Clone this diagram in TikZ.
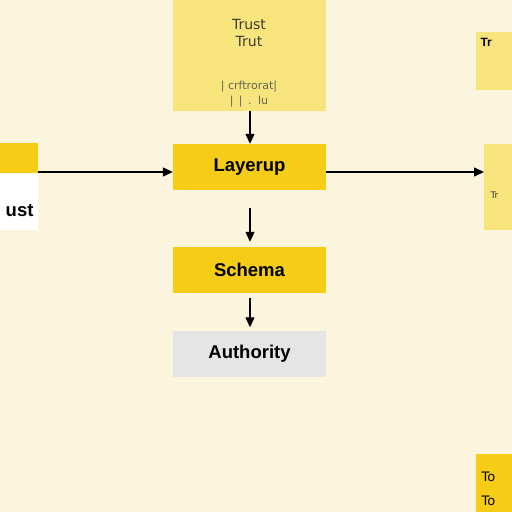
\documentclass[tikz,border=0pt]{standalone}
\usepackage{fontspec}
\setmainfont{Liberation Sans}
\newfontfamily\thinfont{DejaVu Sans}
\usetikzlibrary{arrows.meta}
\definecolor{cream}{RGB}{252,245,221}
\definecolor{gold}{RGB}{245,204,22}
\definecolor{paleyellow}{RGB}{248,228,124}
\definecolor{softgray}{RGB}{229,229,229}
\definecolor{inkgray}{RGB}{60,60,50}
\begin{document}
\begin{tikzpicture}[x=1pt, y=-1pt,
    box/.style={rectangle, inner sep=0pt, minimum width=153pt, minimum height=46pt,
      font=\fontsize{18.5}{20}\selectfont\bfseries},
    arr/.style={-{Triangle[length=10pt,width=9pt]}, line width=1.3pt, black}]
  \fill[cream] (0,0) rectangle (512,512);
  \clip (0,0) rectangle (512,512);
  % side boxes, cut by the frame
  \fill[white] (-60,143) rectangle (38,230);
  \fill[gold] (-60,143) rectangle (38,173);
  \node[anchor=east, font=\fontsize{18.5}{20}\selectfont\bfseries] (lfttxt) at (37,211) {ust};
  \coordinate (lft) at (38,172);
  \fill[paleyellow] (484,144) rectangle (560,230);
  \node[anchor=west, font=\fontsize{9}{10}\selectfont\thinfont, text=inkgray] (rgttxt) at (487,195) {Tr};
  \coordinate (rgt) at (484,172);
  \fill[paleyellow] (476,32) rectangle (560,90);
  \node[anchor=west, font=\fontsize{12}{13}\selectfont\bfseries] (toprgt) at (477,42) {Tr};
  \fill[gold] (476,454) rectangle (560,560);
  \node[anchor=west, font=\fontsize{13}{14}\selectfont\thinfont] (botrgta) at (478,477) {To};
  \node[anchor=west, font=\fontsize{13}{14}\selectfont\thinfont] (botrgtb) at (478,501) {To};
  % main stack
  \fill[paleyellow] (173,-5) rectangle (326,111);
  \coordinate (topbox) at (250,111);
  \node[font=\fontsize{14}{14}\selectfont\thinfont, text=inkgray] (toptxta) at (249,24) {Trust};
  \node[font=\fontsize{14}{14}\selectfont\thinfont, text=inkgray] (toptxtb) at (249,41) {Trut};
  \node[font=\fontsize{11}{11}\selectfont\thinfont, text=inkgray!80] (topsuba) at (249,87) {| crftrorat|};
  \node[font=\fontsize{11}{11}\selectfont\thinfont, text=inkgray!80] (topsubb) at (249,102) {| \,|\, .\, lu};
  \node[box, fill=gold] (lay) at (249.5,167) {Layerup};
  \node[box, fill=gold] (sch) at (249.5,270) {Schema};
  \node[box, fill=softgray] (aut) at (249.5,353.5) {Authority};
  \draw[arr] (topbox) -- (lay.north -| topbox);
  \draw[arr, shorten <=18pt, shorten >=5pt] (lay.south -| topbox) -- (sch.north -| topbox);
  \draw[arr, shorten <=5pt, shorten >=3pt] (sch.south -| topbox) -- (aut.north -| topbox);
  \draw[arr] (lft) -- (lay.west |- lft);
  \draw[arr] (lay.east |- rgt) -- (rgt);
\end{tikzpicture}
\end{document}
